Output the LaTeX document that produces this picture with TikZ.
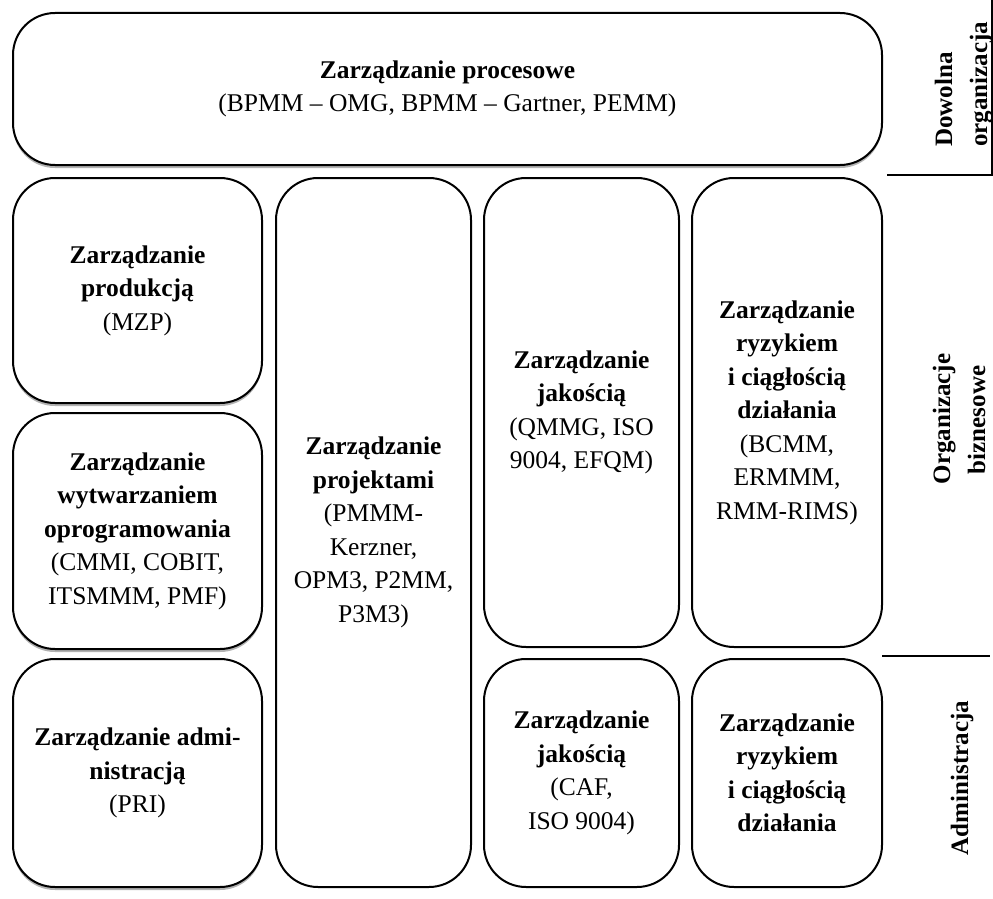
\documentclass[tikz,border=0pt]{standalone}
\usepackage{fontspec}
\setmainfont{Liberation Serif}
\usetikzlibrary{shadows}
\begin{document}
\begin{tikzpicture}[x=1pt,y=-1pt,
  box/.style={draw=black,line width=2pt,rounded corners=42pt,fill=white,
    align=center,inner sep=4pt,font=\fontsize{25.5}{33.5}\selectfont},
  shbox/.style={box,drop shadow={shadow xshift=0pt,shadow yshift=-3pt,fill=gray!60,opacity=1}},
  sidelab/.style={rotate=90,inner sep=0pt,font=\fontsize{25}{30}\selectfont\bfseries},
  sep/.style={line width=2pt}]
\useasboundingbox (0,0) rectangle (993,899);
% boxes
\node[shbox,minimum width=869pt,minimum height=152pt] (proc) at (447.5,89)
  {\textbf{Zarządzanie procesowe}\\(BPMM – OMG, BPMM – Gartner, PEMM)};
\node[shbox,minimum width=249pt,minimum height=225pt] (prod) at (137.5,290.5)
  {\textbf{Zarządzanie}\\\textbf{produkcją}\\(MZP)};
\node[shbox,minimum width=249pt,minimum height=236pt] (wytw) at (137.5,531)
  {\textbf{Zarządzanie}\\\textbf{wytwarzaniem}\\\textbf{oprogramowania}\\(CMMI, COBIT,\\ITSMMM, PMF)};
\node[shbox,minimum width=249pt,minimum height=228pt] (adm) at (137.5,773)
  {\textbf{Zarządzanie admi-}\\\textbf{nistracją}\\(PRI)};
\node[box,minimum width=195pt,minimum height=709pt] (proj) at (373.5,532.5)
  {\textbf{Zarządzanie}\\\textbf{projektami}\\(PMMM-\\Kerzner,\\OPM3, P2MM,\\P3M3)};
\node[box,minimum width=195pt,minimum height=469pt] (jak1) at (581.5,412.5)
  {\textbf{Zarządzanie}\\\textbf{jakością}\\(QMMG, ISO\\9004, EFQM)};
\node[box,minimum width=190pt,minimum height=469pt] (ryz1) at (787,412.5)
  {\textbf{Zarządzanie}\\\textbf{ryzykiem}\\\textbf{i ciągłością}\\\textbf{działania}\\(BCMM,\\ERMMM,\\RMM-RIMS)};
\node[box,minimum width=195pt,minimum height=228pt] (jak2) at (581.5,773)
  {\textbf{Zarządzanie}\\\textbf{jakością}\\(CAF,\\ISO 9004)};
\node[box,minimum width=190pt,minimum height=228pt] (ryz2) at (787,773)
  {\textbf{Zarządzanie}\\\textbf{ryzykiem}\\\textbf{i ciągłością}\\\textbf{działania}};
% side labels
\node[sidelab,anchor=base west] (dow1) at (952,147) {Dowolna};
\node[sidelab,anchor=base west] (dow2) at (987,147) {organizacja};
\node[sidelab,anchor=base] (org1) at (950,419) {Organizacje};
\node[sidelab,anchor=base] (org2) at (985,420) {biznesowe};
\node[sidelab,anchor=base] (adml) at (968,778) {Administracja};
% separators
\coordinate (vtop) at (992,0);
\coordinate (vcorner) at (992,175);
\coordinate (h1l) at (887,175);
\coordinate (h2l) at (882,656);
\coordinate (h2r) at (990,656);
\draw[sep] (vtop) -- (vcorner) -- (h1l);
\draw[sep] (h2l) -- (h2r);
\end{tikzpicture}
\end{document}
